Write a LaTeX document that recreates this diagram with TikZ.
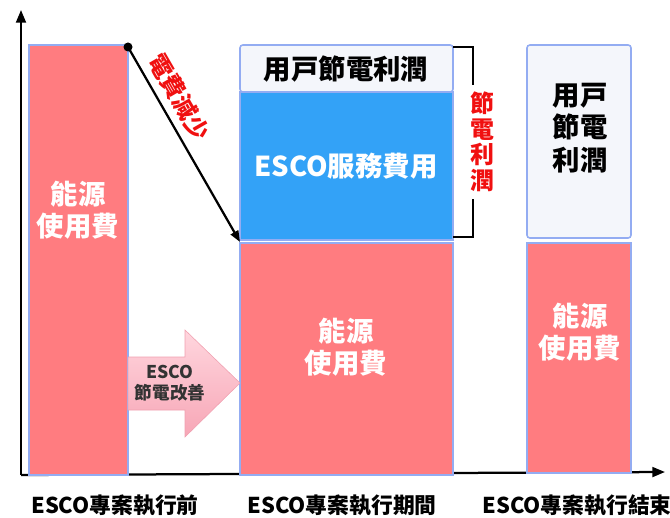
\documentclass[tikz,border=0pt]{standalone}
\usepackage{fontspec}
\setmainfont{Noto Sans CJK TC}
\usetikzlibrary{arrows.meta,positioning}
\definecolor{costred}{HTML}{FF7C80}
\definecolor{feeblue}{HTML}{33A2F7}
\definecolor{profitwhite}{HTML}{F4F6FB}
\definecolor{barline}{HTML}{93ACF2}
\definecolor{arrowpinkA}{HTML}{FFD6DE}
\definecolor{arrowpinkB}{HTML}{F7A6B6}
\definecolor{arrowline}{HTML}{F0A0B0}
\definecolor{cutred}{HTML}{F01010}
\tikzset{
  bar/.style={draw=barline,line width=1.1pt,fill=costred},
  topbox/.style={draw=barline,line width=1.1pt,fill=profitwhite,rounded corners=2pt},
  feebox/.style={draw=barline,line width=1.1pt,fill=feeblue},
  whitetxt/.style={text=white,font=\bfseries\fontsize{19.5}{23}\selectfont,align=center},
  blacktxt/.style={text=black,font=\bfseries\fontsize{19.5}{23}\selectfont,align=center},
  phasetxt/.style={font=\bfseries\fontsize{15.5}{18}\selectfont},
  axisline/.style={line width=1.6pt,-{Triangle[length=9pt,width=7pt]}}
}
\begin{document}
\begin{tikzpicture}[x=0.025cm,y=-0.025cm]
\useasboundingbox (0,0) rectangle (670,518);

% axes
\coordinate (origin) at (21,475);
\coordinate (ytop) at (21,10);
\coordinate (xend) at (665,472);
\draw[axisline] (origin) -- (ytop);
\draw[axisline] (origin) -- (xend);

% bar before
\draw[bar] (29,45) rectangle (128,475);
\node[whitetxt] (before) at (78,210) {能源\\使用費};

% bar during
\draw[topbox] (240,45) rectangle (453,92);
\draw[feebox] (240,92) rectangle (453,240);
\draw[bar] (240,243) rectangle (453,475);
\node[blacktxt] (userprofit) at (346,69) {用戸節電利潤};
\node[whitetxt] (escofee) at (346,166) {ESCO服務費用};
\node[whitetxt] (during) at (346,347) {能源\\使用費};

% bar after
\draw[topbox] (527,45) rectangle (631,238);
\draw[bar] (527,243) rectangle (631,473);
\node[blacktxt] (afterprofit) at (580,128) {用戸\\節電\\利潤};
\node[whitetxt] (after) at (580,332) {能源\\使用費};

% bill drop
\coordinate (drop) at (128,47);
\coordinate (land) at (240,242);
\fill (drop) circle (4.5);
\draw[line width=1.6pt,-{Triangle[length=8pt,width=6pt]}] (drop) -- (land);
\node[text=cutred,font=\bfseries\fontsize{17}{19}\selectfont,rotate=-60,inner sep=0pt] (cut) at (179,97) {電費減少};

% saving bracket
\draw[line width=1.4pt] (453,47) -- (473,47) -- (473,85);
\draw[line width=1.4pt] (473,199) -- (473,237) -- (453,237);
\node[text=cutred,font=\bfseries\fontsize{17}{18.2}\selectfont,align=center] (saving) at (482,142) {節\\電\\利\\潤};

% improvement arrow
\draw[draw=arrowline,top color=arrowpinkA,bottom color=arrowpinkB]
  (128,357) -- (185,357) -- (185,330) -- (240,383) -- (185,437) -- (185,410) -- (128,410) -- cycle;
\node[text=black!80,font=\bfseries\fontsize{12.5}{15}\selectfont,align=center] (improve) at (170,383) {ESCO\\節電改善};

% phases
\node[phasetxt] (phase1) at (115,505) {ESCO專案執行前};
\node[phasetxt] (phase2) at (342,505) {ESCO專案執行期間};
\node[phasetxt] (phase3) at (577,505) {ESCO專案執行結束};

\end{tikzpicture}
\end{document}
